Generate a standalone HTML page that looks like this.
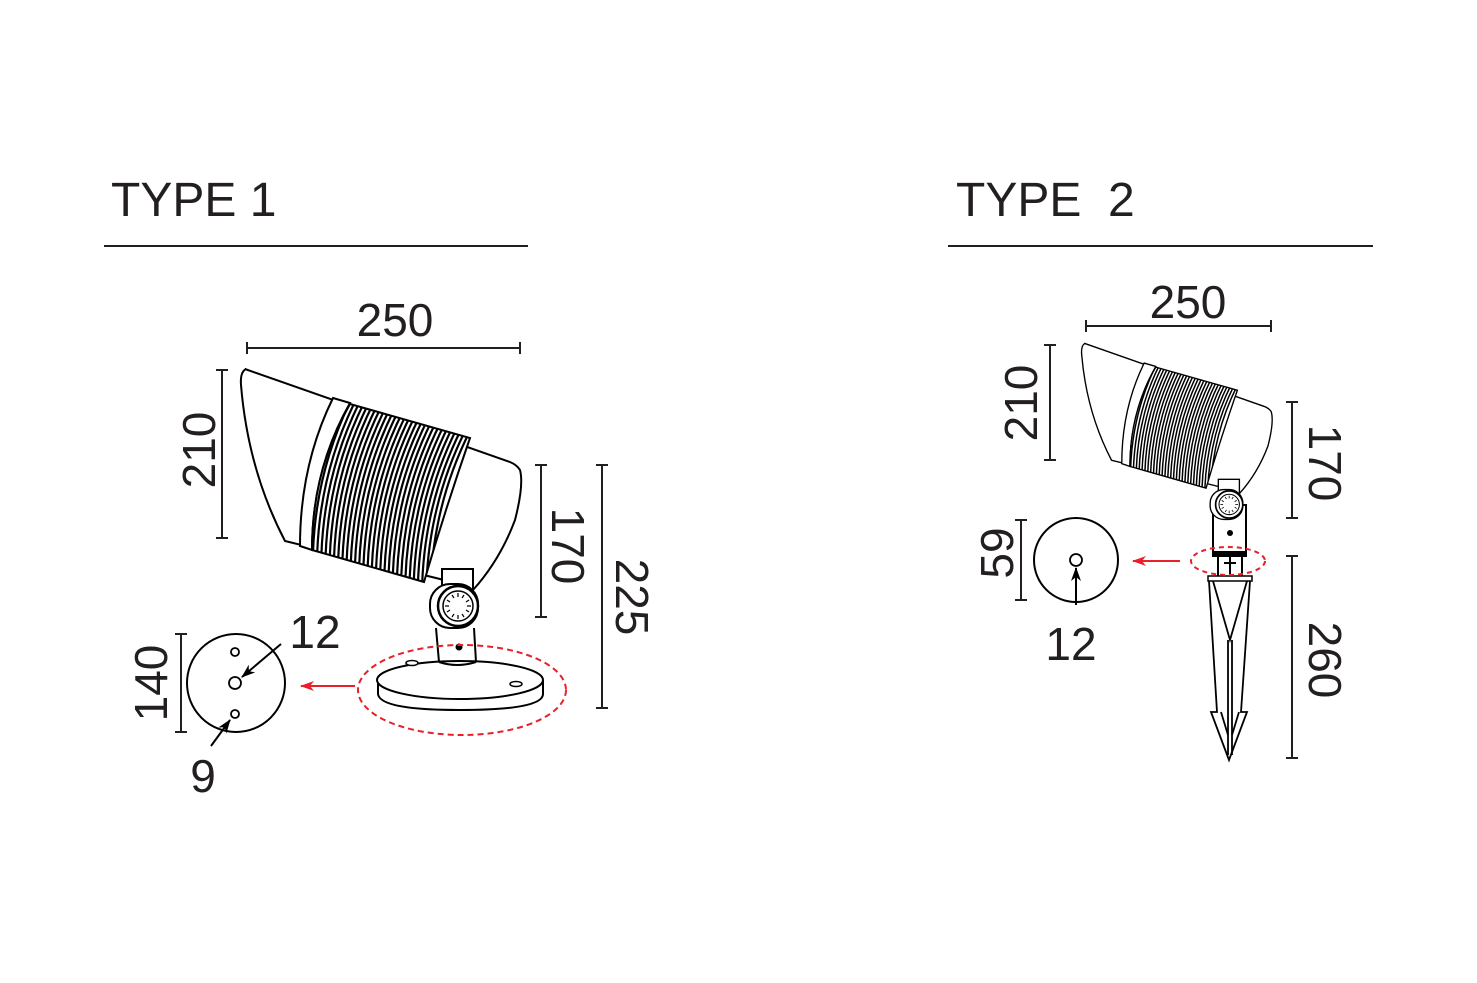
<!DOCTYPE html>
<html><head><meta charset="utf-8"><style>
html,body{margin:0;padding:0;background:#fff;}
svg{display:block;}
text{font-family:"Liberation Sans",Arial,sans-serif;fill:#231f20;}
</style></head><body>
<svg width="1477" height="983" viewBox="0 0 1477 983" xmlns="http://www.w3.org/2000/svg">
<defs>
  <marker id="ah" markerWidth="14" markerHeight="10" refX="13" refY="5" orient="auto" markerUnits="userSpaceOnUse">
    <path d="M0,0 L14,5 L0,10 L4,5 Z" fill="#000"/>
  </marker>
  <marker id="ahr" markerWidth="14" markerHeight="10" refX="13" refY="5" orient="auto" markerUnits="userSpaceOnUse">
    <path d="M0,0 L14,5 L0,10 L4,5 Z" fill="#e8202a"/>
  </marker>
  <clipPath id="band">
    <path d="M350,404 L470,438 Q445,510 424,582 L312,550 Q312,470 350,404 Z"/>
  </clipPath>
  <path id="rib" d="M352,398 Q316,470 313,552" fill="none" stroke="#000" stroke-width="2.2"/>
  <g id="lamp">
    <path d="M246,369 Q240,372 241,385 Q248,470 285,541 L440,579 L473,590 Q500,560 515,520 Q524,485 520,470 Q517,465 510,462 L245,369 Z" fill="#fff" stroke="#000" stroke-width="2"/>
    <path d="M333,398 L350,403 Q312,470 312,550 L300,546 Q300,465 333,398 Z" fill="#fff" stroke="#000" stroke-width="2"/>
    <g clip-path="url(#band)">
      <rect x="300" y="390" width="180" height="200" fill="#fff"/>
      <use href="#rib"/><use href="#rib" transform="translate(4.2,1.2)"/><use href="#rib" transform="translate(8.4,2.4)"/><use href="#rib" transform="translate(12.6,3.6)"/><use href="#rib" transform="translate(16.8,4.8)"/><use href="#rib" transform="translate(21,6)"/><use href="#rib" transform="translate(25.2,7.2)"/><use href="#rib" transform="translate(29.4,8.4)"/><use href="#rib" transform="translate(33.6,9.6)"/><use href="#rib" transform="translate(37.8,10.8)"/><use href="#rib" transform="translate(42,12)"/><use href="#rib" transform="translate(46.2,13.2)"/><use href="#rib" transform="translate(50.4,14.4)"/><use href="#rib" transform="translate(54.6,15.6)"/><use href="#rib" transform="translate(58.8,16.8)"/><use href="#rib" transform="translate(63,18)"/><use href="#rib" transform="translate(67.2,19.2)"/><use href="#rib" transform="translate(71.4,20.4)"/><use href="#rib" transform="translate(75.6,21.6)"/><use href="#rib" transform="translate(79.8,22.8)"/><use href="#rib" transform="translate(84,24)"/><use href="#rib" transform="translate(88.2,25.2)"/><use href="#rib" transform="translate(92.4,26.4)"/><use href="#rib" transform="translate(96.6,27.6)"/><use href="#rib" transform="translate(100.8,28.8)"/><use href="#rib" transform="translate(105,30)"/><use href="#rib" transform="translate(109.2,31.2)"/><use href="#rib" transform="translate(113.4,32.4)"/><use href="#rib" transform="translate(117.6,33.6)"/>
    </g>
    <path d="M350,404 L470,438 Q445,510 424,582 L312,550 Q312,470 350,404 Z" fill="none" stroke="#000" stroke-width="2"/>
    <rect x="442" y="569" width="31" height="25" fill="#fff" stroke="#000" stroke-width="2"/>
    <rect x="430" y="584" width="48" height="44" rx="20" fill="#fff" stroke="#000" stroke-width="2"/>
    <circle cx="458" cy="606" r="20" fill="#fff" stroke="#000" stroke-width="2.5"/>
    <circle cx="458" cy="606" r="15" fill="#fff" stroke="#000" stroke-width="1.5"/>
    <g stroke="#000" stroke-width="1.2">
      <line x1="458" y1="593" x2="458" y2="597"/><line x1="458" y1="615" x2="458" y2="619"/>
      <line x1="445" y1="606" x2="449" y2="606"/><line x1="467" y1="606" x2="471" y2="606"/>
      <line x1="452" y1="595" x2="454" y2="598"/><line x1="464" y1="595" x2="462" y2="598"/>
      <line x1="452" y1="617" x2="454" y2="614"/><line x1="464" y1="617" x2="462" y2="614"/>
      <line x1="447" y1="600" x2="450" y2="602"/><line x1="469" y1="600" x2="466" y2="602"/>
      <line x1="447" y1="612" x2="450" y2="610"/><line x1="469" y1="612" x2="466" y2="610"/>
    </g>
  </g>
</defs>

<text x="111" y="216" font-size="48">TYPE 1</text>
<line x1="104" y1="246" x2="528" y2="246" stroke="#231f20" stroke-width="2"/>
<text x="956" y="216" font-size="48" xml:space="preserve">TYPE  2</text>
<line x1="948" y1="246" x2="1373" y2="246" stroke="#231f20" stroke-width="2"/>

<use href="#lamp"/>
<path d="M378,680 L378,694 Q380,710 460,710 Q543,710 543,694 L543,680" fill="#fff" stroke="#000" stroke-width="2"/>
<ellipse cx="460" cy="680" rx="83" ry="19" fill="#fff" stroke="#000" stroke-width="2"/>
<path d="M436,630 L439,660 L475,660 L473,630 Z" fill="#fff" stroke="none"/>
<line x1="436" y1="628" x2="439" y2="662" stroke="#000" stroke-width="2"/>
<line x1="474" y1="628" x2="476" y2="662" stroke="#000" stroke-width="2"/>
<path d="M439,662 Q457,668 476,662" fill="none" stroke="#000" stroke-width="2"/>
<circle cx="459" cy="647" r="3.5" fill="#000"/>
<ellipse cx="412" cy="663" rx="6" ry="2.5" fill="#fff" stroke="#000" stroke-width="1.5"/>
<ellipse cx="516" cy="684" rx="6" ry="2.5" fill="#fff" stroke="#000" stroke-width="1.5"/>
<ellipse cx="462" cy="690" rx="104" ry="45" fill="none" stroke="#e8202a" stroke-width="2" stroke-dasharray="6,4"/>
<line x1="355" y1="686" x2="301" y2="686" stroke="#e8202a" stroke-width="2" marker-end="url(#ahr)"/>

<circle cx="236" cy="683" r="49" fill="none" stroke="#000" stroke-width="2"/>
<circle cx="235" cy="652" r="4" fill="#fff" stroke="#000" stroke-width="1.8"/>
<circle cx="235" cy="683" r="6" fill="#fff" stroke="#000" stroke-width="1.8"/>
<circle cx="235" cy="714" r="4" fill="#fff" stroke="#000" stroke-width="1.8"/>
<line x1="281" y1="644" x2="242" y2="677" stroke="#000" stroke-width="2" marker-end="url(#ah)"/>
<line x1="211" y1="746" x2="230" y2="720" stroke="#000" stroke-width="2" marker-end="url(#ah)"/>
<text x="315" y="648" font-size="46" text-anchor="middle">12</text>
<text x="203" y="792" font-size="46" text-anchor="middle">9</text>

<g stroke="#231f20" stroke-width="2">
  <line x1="247" y1="348" x2="520" y2="348"/><line x1="247" y1="342" x2="247" y2="354"/><line x1="520" y1="342" x2="520" y2="354"/>
  <line x1="222" y1="370" x2="222" y2="538"/><line x1="216" y1="370" x2="228" y2="370"/><line x1="216" y1="538" x2="228" y2="538"/>
  <line x1="541" y1="465" x2="541" y2="617"/><line x1="535" y1="465" x2="547" y2="465"/><line x1="535" y1="617" x2="547" y2="617"/>
  <line x1="602" y1="465" x2="602" y2="708"/><line x1="596" y1="465" x2="608" y2="465"/><line x1="596" y1="708" x2="608" y2="708"/>
  <line x1="181" y1="634" x2="181" y2="732"/><line x1="175" y1="634" x2="187" y2="634"/><line x1="175" y1="732" x2="187" y2="732"/>
</g>
<text x="395" y="336" font-size="46" text-anchor="middle">250</text>
<text transform="translate(215,450) rotate(-90)" font-size="46" text-anchor="middle">210</text>
<text transform="translate(552,546) rotate(90)" font-size="46" text-anchor="middle">170</text>
<text transform="translate(616,597) rotate(90)" font-size="46" text-anchor="middle">225</text>
<text transform="translate(167,683) rotate(-90)" font-size="46" text-anchor="middle">140</text>

<rect x="1213" y="505" width="33" height="51" fill="#fff" stroke="#000" stroke-width="2"/>
<circle cx="1230" cy="533" r="3" fill="#000"/>
<rect x="1213" y="551" width="33" height="6" fill="#000"/>
<path d="M1218,557 L1218,578 M1242,557 L1242,578 M1224,563 L1236,563 M1230,557 L1230,578" stroke="#000" stroke-width="2" fill="none"/>
<rect x="1208" y="576" width="44" height="5" fill="#fff" stroke="#000" stroke-width="1.5"/>
<g stroke="#000" stroke-width="1.8" fill="none">
  <path d="M1209,581 L1217,712 L1211,712 L1229,760 L1247,712 L1241,712 L1250,581"/>
  <path d="M1213,581 L1230,640 L1247,581"/>
  <line x1="1228" y1="640" x2="1228" y2="755"/><line x1="1232" y1="640" x2="1232" y2="755"/>
  <line x1="1221" y1="712" x2="1228" y2="735"/><line x1="1239" y1="712" x2="1232" y2="735"/>
</g>
<use href="#lamp" transform="translate(1083,344) scale(0.68) translate(-243,-370)"/>
<ellipse cx="1228" cy="561" rx="37" ry="14" fill="none" stroke="#e8202a" stroke-width="2" stroke-dasharray="5,4"/>
<line x1="1180" y1="561" x2="1133" y2="561" stroke="#e8202a" stroke-width="2" marker-end="url(#ahr)"/>

<circle cx="1076" cy="560" r="42" fill="none" stroke="#000" stroke-width="2"/>
<circle cx="1076" cy="560" r="6" fill="#fff" stroke="#000" stroke-width="1.8"/>
<line x1="1076" y1="605" x2="1076" y2="568" stroke="#000" stroke-width="2" marker-end="url(#ah)"/>
<text x="1071" y="660" font-size="46" text-anchor="middle">12</text>

<g stroke="#231f20" stroke-width="2">
  <line x1="1086" y1="326" x2="1271" y2="326"/><line x1="1086" y1="320" x2="1086" y2="332"/><line x1="1271" y1="320" x2="1271" y2="332"/>
  <line x1="1050" y1="345" x2="1050" y2="460"/><line x1="1044" y1="345" x2="1056" y2="345"/><line x1="1044" y1="460" x2="1056" y2="460"/>
  <line x1="1292" y1="402" x2="1292" y2="518"/><line x1="1286" y1="402" x2="1298" y2="402"/><line x1="1286" y1="518" x2="1298" y2="518"/>
  <line x1="1292" y1="556" x2="1292" y2="758"/><line x1="1286" y1="556" x2="1298" y2="556"/><line x1="1286" y1="758" x2="1298" y2="758"/>
  <line x1="1021" y1="520" x2="1021" y2="600"/><line x1="1015" y1="520" x2="1027" y2="520"/><line x1="1015" y1="600" x2="1027" y2="600"/>
</g>
<text x="1188" y="318" font-size="46" text-anchor="middle">250</text>
<text transform="translate(1037,403) rotate(-90)" font-size="46" text-anchor="middle">210</text>
<text transform="translate(1309,463) rotate(90)" font-size="46" text-anchor="middle">170</text>
<text transform="translate(1309,660) rotate(90)" font-size="46" text-anchor="middle">260</text>
<text transform="translate(1013,553) rotate(-90)" font-size="46" text-anchor="middle">59</text>
</svg>
</body></html>
